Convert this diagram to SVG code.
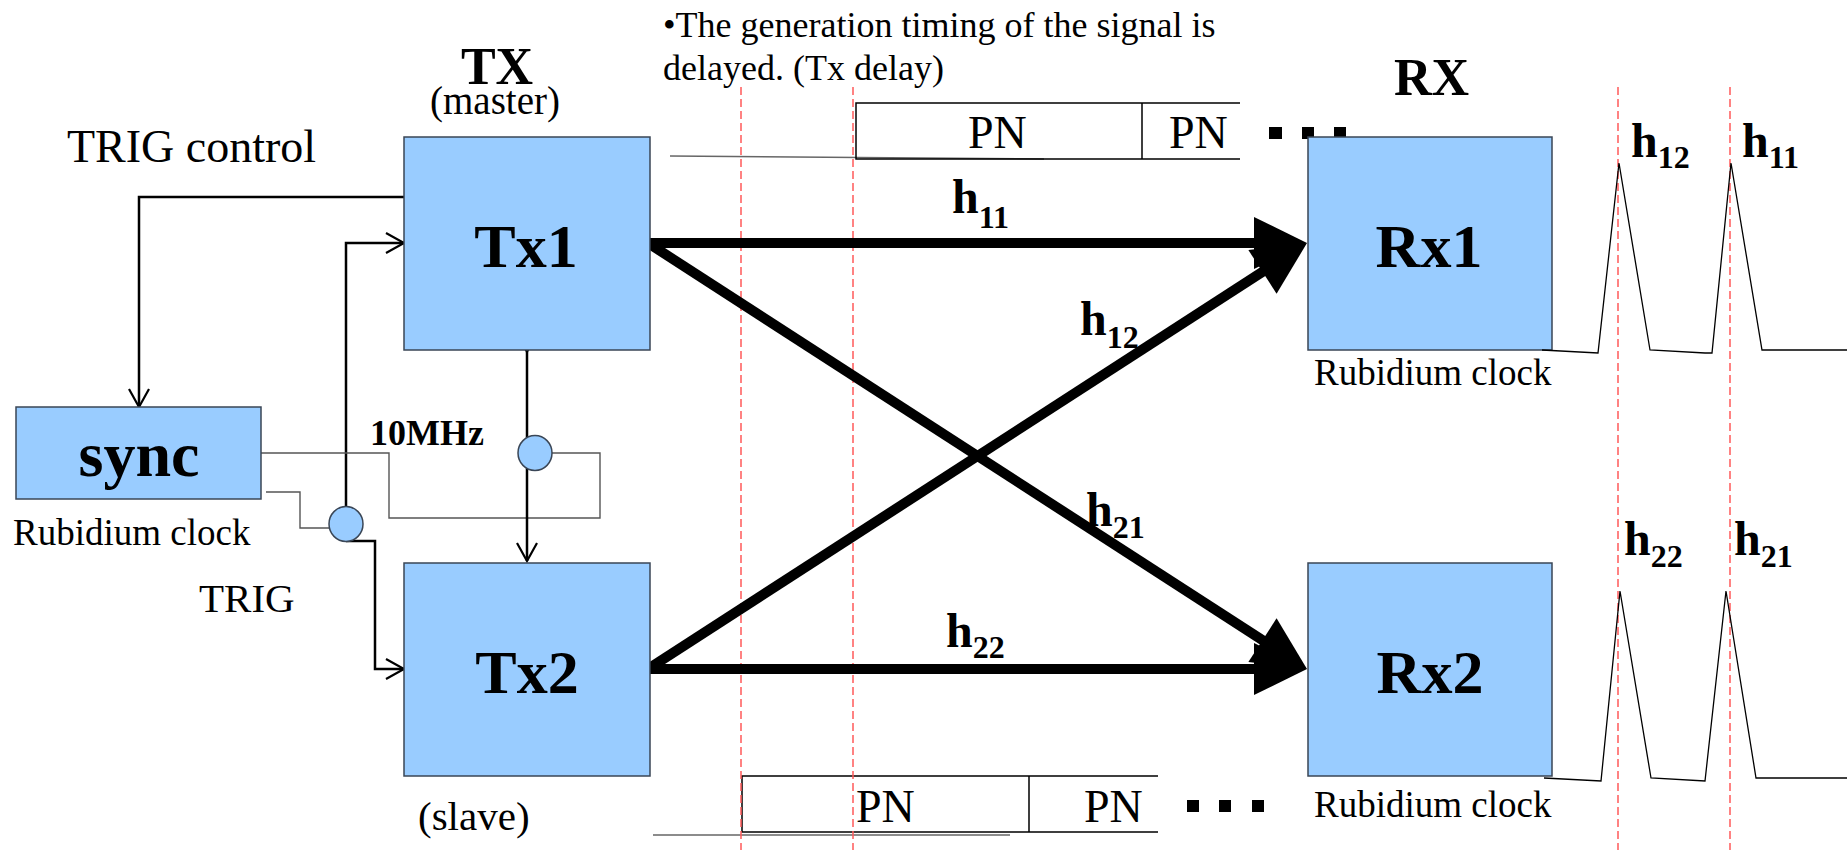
<svg xmlns="http://www.w3.org/2000/svg" width="1847" height="850" viewBox="0 0 1847 850">
<style>
.box{fill:#99ccff;stroke:#3a4656;stroke-width:1.5}
.t{font-family:"Liberation Serif","Times New Roman",serif;fill:#000}
.b{font-weight:bold}
.thin{fill:none;stroke:#555;stroke-width:1.4}
.ctl{fill:none;stroke:#000;stroke-width:2.5}
.big{fill:none;stroke:#000;stroke-width:10}
.red{stroke:#ff5a5a;stroke-width:1.5;stroke-dasharray:8 4;fill:none}
.pn{fill:none;stroke:#000;stroke-width:1.5}
.gl{fill:none;stroke:#666;stroke-width:1.5}
.pk{fill:none;stroke:#000;stroke-width:1.3}
.dot{fill:#000}
.circ{fill:#99ccff;stroke:#3a4656;stroke-width:1.5}
</style>
<defs>
<marker id="open" markerUnits="userSpaceOnUse" viewBox="0 0 20 22" refX="19" refY="11" markerWidth="20" markerHeight="22" orient="auto" overflow="visible">
<path d="M1,1 L19,11 L1,21" fill="none" stroke="#000" stroke-width="2.2"/>
</marker>
<marker id="head" markerUnits="userSpaceOnUse" viewBox="0 0 53 52" refX="8" refY="26" markerWidth="53" markerHeight="52" orient="auto" overflow="visible">
<path d="M0,0 L53,26 L0,52 z" fill="#000"/>
</marker>
</defs>
<rect width="1847" height="850" fill="#fff"/>

<g id="caption">
<text class="t" x="663" y="37" font-size="36">•The generation timing of the signal is</text>
<text class="t" x="663" y="80" font-size="36">delayed. (Tx delay)</text>
</g>

<g id="pn-top">
<line class="gl" x1="670" y1="156" x2="1044" y2="159"/>
<path class="pn" d="M1240,103 H856 V159 H1240 M1142,103 V159"/>
<text class="t" x="968" y="148" font-size="46">PN</text>
<text class="t" x="1169" y="148" font-size="46">PN</text>
<rect class="dot" x="1269" y="127" width="13" height="12"/>
<rect class="dot" x="1302" y="127" width="12" height="12"/>
<rect class="dot" x="1334" y="127" width="12" height="12"/>
</g>

<g id="pn-bottom">
<line class="gl" x1="653" y1="835" x2="1010" y2="835"/>
<path class="pn" d="M1158,776 H742 V832 H1158 M1029,776 V832"/>
<text class="t" x="856" y="822" font-size="46">PN</text>
<text class="t" x="1084" y="822" font-size="46">PN</text>
<rect class="dot" x="1187" y="800" width="12" height="12"/>
<rect class="dot" x="1219" y="800" width="12" height="12"/>
<rect class="dot" x="1252" y="800" width="12" height="12"/>
</g>

<g id="timing">
<line class="red" x1="741" y1="87" x2="741" y2="850"/>
<line class="red" x1="853" y1="87" x2="853" y2="850"/>
<line class="red" x1="1618" y1="87" x2="1618" y2="850"/>
<line class="red" x1="1730" y1="87" x2="1730" y2="850"/>
</g>

<g id="connectors">
<polyline class="ctl" points="404,197 139,197 139,407" marker-end="url(#open)"/>
<polyline class="ctl" points="346,507 346,243 404,243" marker-end="url(#open)"/>
<polyline class="ctl" points="346,541 375,541 375,669 404,669" marker-end="url(#open)"/>
<polyline class="thin" points="266,492 300,492 300,528 333,528"/>
<polyline class="thin" points="261,453 389,453 389,518 600,518 600,453 551,453"/>
<line class="ctl" x1="527" y1="352" x2="527" y2="561" marker-start="url(#open)" marker-end="url(#open)"/>
<line class="big" x1="648" y1="243" x2="1262" y2="243" marker-end="url(#head)"/>
<line class="big" x1="648" y1="669" x2="1262" y2="669" marker-end="url(#head)"/>
<line class="big" x1="648" y1="243" x2="1269.2" y2="644.5" marker-end="url(#head)"/>
<line class="big" x1="648" y1="669" x2="1269.2" y2="267.5" marker-end="url(#head)"/>
</g>

<g id="junction-trig"><ellipse class="circ" cx="346" cy="524" rx="17" ry="17.5"/></g>
<g id="junction-10mhz"><ellipse class="circ" cx="535" cy="453" rx="17" ry="17.5"/></g>

<g id="tx-header">
<text class="t b" x="497" y="84" font-size="52" text-anchor="middle">TX</text>
<text class="t" x="495" y="114" font-size="39" text-anchor="middle">(master)</text>
</g>
<text class="t" x="67" y="162" font-size="46">TRIG control</text>
<text class="t b" x="370" y="445" font-size="36">10MHz</text>
<text class="t" x="199" y="612" font-size="41">TRIG</text>
<text class="t" x="418" y="830" font-size="41">(slave)</text>

<g id="tx1">
<rect class="box" x="404" y="137" width="246" height="213"/>
<text class="t b" x="526" y="267" font-size="62" text-anchor="middle">Tx1</text>
</g>
<g id="tx2">
<rect class="box" x="404" y="563" width="246" height="213"/>
<text class="t b" x="527" y="693" font-size="62" text-anchor="middle">Tx2</text>
</g>
<g id="sync">
<rect class="box" x="16" y="407" width="245" height="92"/>
<text class="t b" x="139" y="476" font-size="64" text-anchor="middle">sync</text>
<text class="t" x="13" y="545" font-size="37">Rubidium clock</text>
</g>

<text class="t b" x="1394" y="95" font-size="52">RX</text>
<g id="rx1">
<rect class="box" x="1308" y="137" width="244" height="213"/>
<text class="t b" x="1429" y="267" font-size="62" text-anchor="middle">Rx1</text>
<text class="t" x="1314" y="385" font-size="37">Rubidium clock</text>
</g>
<g id="rx2">
<rect class="box" x="1308" y="563" width="244" height="213"/>
<text class="t b" x="1430" y="693" font-size="62" text-anchor="middle">Rx2</text>
<text class="t" x="1314" y="817" font-size="37">Rubidium clock</text>
</g>

<g id="labels">
<text class="t b" x="952" y="213" font-size="48">h<tspan font-size="32" dy="15">11</tspan></text>
<text class="t b" x="1080" y="335" font-size="48">h<tspan font-size="32" dy="13">12</tspan></text>
<text class="t b" x="1086" y="526" font-size="48">h<tspan font-size="32" dy="12">21</tspan></text>
<text class="t b" x="946" y="647" font-size="48">h<tspan font-size="32" dy="11">22</tspan></text>
<text class="t b" x="1631" y="157" font-size="48">h<tspan font-size="32" dy="11">12</tspan></text>
<text class="t b" x="1742" y="157" font-size="48">h<tspan font-size="32" dy="11">11</tspan></text>
<text class="t b" x="1624" y="555" font-size="48">h<tspan font-size="32" dy="12">22</tspan></text>
<text class="t b" x="1734" y="555" font-size="48">h<tspan font-size="32" dy="12">21</tspan></text>
</g>

<g id="peaks">
<polyline class="pk" points="1542,350 1598,353 1619,163 1650,350 1705,353 1712,353 1731,163 1762,350 1847,350"/>
<polyline class="pk" points="1544,778 1601,781 1620,591 1651,778 1705,781 1726,591 1756,778 1847,778"/>
</g>
</svg>
